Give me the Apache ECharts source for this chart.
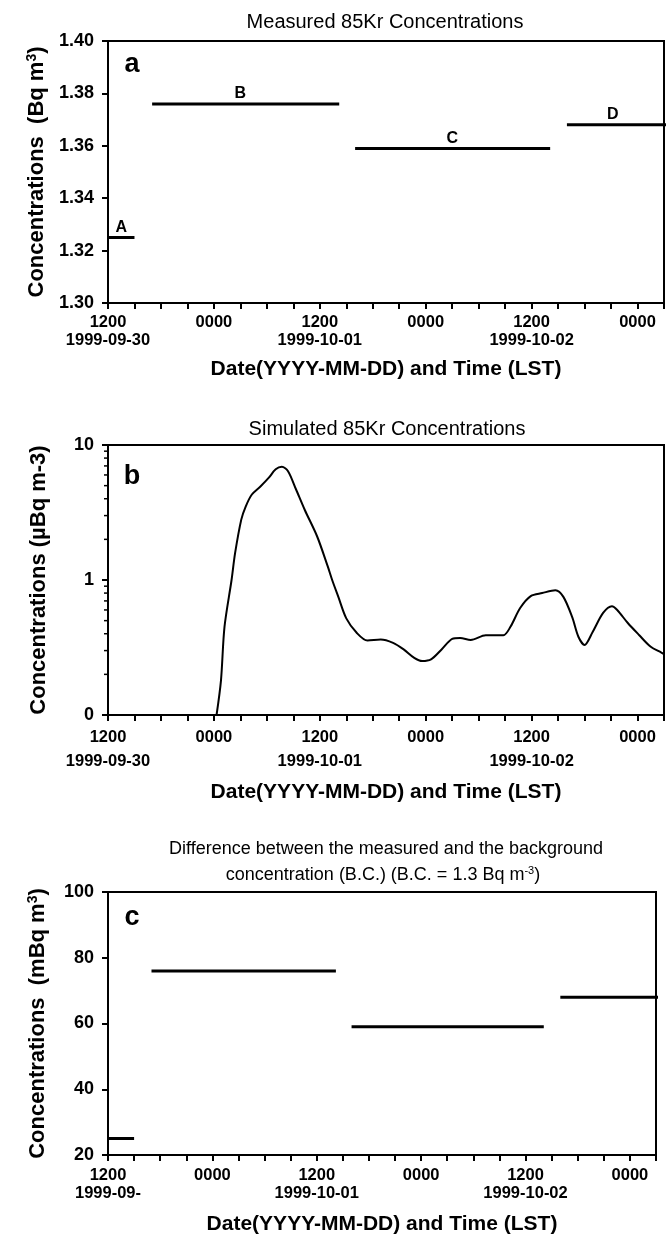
<!DOCTYPE html>
<html><head><meta charset="utf-8">
<script src="https://cdn.jsdelivr.net/npm/echarts@6/dist/echarts.min.js"></script>
<style>html,body{margin:0;padding:0;background:#fff}#c{width:667px;height:1236px}</style>
</head><body><div id="c"></div><script>
// ---- data ----
const hourTicks = [0, 12, 24, 36, 48, 60];
const timeLabels = ['1200', '0000', '1200', '0000', '1200', '0000'];
const dateLabelsAB = ['1999-09-30', '', '1999-10-01', '', '1999-10-02', ''];
const dateLabelsC = ['1999-09-', '', '1999-10-01', '', '1999-10-02', ''];
const segNames = ['A', 'B', 'C', 'D'];
const segStart = [0, 5, 28, 52];
const segEnd = [3, 26.2, 50.1, 64];
const segLabelAt = [1.5, 15, 39, 57.2];
const measuredBq = [1.325, 1.376, 1.359, 1.368];
const diffmBq = [25, 76, 59, 68];
const simHours = [12.3, 12.8, 13.2, 14.0, 14.4, 15.1, 15.6, 16.3, 17.3, 18.2, 19.0, 19.7, 20.4, 21.3, 22.3, 23.7, 24.9, 25.4, 26.1, 27.0, 28.2, 29.4, 30.9, 32.3, 33.5, 34.7, 35.6, 36.6, 37.8, 39.0, 39.9, 41.1, 42.8, 44.8, 45.6, 46.7, 47.9, 49.2, 50.7, 51.6, 52.6, 53.3, 54.0, 54.9, 56.1, 57.1, 57.7, 58.9, 60.2, 61.5, 62.7, 63.5];
const simValues = [0.1, 0.18, 0.45, 1.0, 1.58, 2.8, 3.5, 4.3, 4.95, 5.7, 6.6, 6.9, 6.4, 4.7, 3.3, 2.1, 1.26, 1.0, 0.75, 0.52, 0.405, 0.356, 0.362, 0.342, 0.306, 0.265, 0.251, 0.258, 0.306, 0.366, 0.372, 0.36, 0.39, 0.39, 0.45, 0.62, 0.76, 0.80, 0.84, 0.75, 0.53, 0.38, 0.33, 0.41, 0.57, 0.64, 0.60, 0.48, 0.39, 0.32, 0.29, 0.27];
const logMinorTicks = [0.2, 0.3, 0.4, 0.5, 0.6, 0.7, 0.8, 0.9, 2, 3, 4, 5, 6, 7, 8, 9];

// ---- chart ----
const FF = '"Liberation Sans", Arial, sans-serif';
const chart = echarts.init(document.getElementById('c'), null, {renderer: 'canvas'});

function xAxisFor(gi, dates, lineHeight, margin, nameGap) {
  return {
    type: 'value', gridIndex: gi, min: 0, max: 63, interval: 3,
    axisLine: {show: true, lineStyle: {color: '#000', width: 2}},
    axisTick: {show: true, inside: false, length: 6, lineStyle: {color: '#000', width: 2}},
    splitLine: {show: false},
    axisLabel: {
      margin: margin, color: '#000', fontSize: 16.5, fontWeight: 'bold', fontFamily: FF, lineHeight: lineHeight,
      formatter: function (v) { const i = hourTicks.indexOf(v); return i < 0 ? '' : timeLabels[i] + '\n' + dates[i]; }
    },
    name: 'Date(YYYY-MM-DD) and Time (LST)', nameLocation: 'middle', nameGap: nameGap,
    nameTextStyle: {color: '#000', fontSize: 21, fontWeight: 'bold', fontFamily: FF}
  };
}
function yAxisBase(gi, name, nameGap) {
  return {
    gridIndex: gi,
    axisLine: {show: true, lineStyle: {color: '#000', width: 2}},
    axisTick: {show: true, inside: false, length: 6, lineStyle: {color: '#000', width: 2}},
    splitLine: {show: false},
    axisLabel: {margin: 14, color: '#000', fontSize: 18, fontWeight: 'bold', fontFamily: FF},
    name: name, nameLocation: 'middle', nameGap: nameGap,
    nameTextStyle: {color: '#000', fontSize: 22, fontWeight: 'bold', fontFamily: FF,
      rich: {sup: {fontSize: 14, fontWeight: 'bold', fontFamily: FF, padding: [0, 0, 10, 0]}}}
  };
}

const yA = Object.assign(yAxisBase(0, 'Concentrations  (Bq m{sup|3})', 58), {type: 'value', min: 1.30, max: 1.40, interval: 0.02});
yA.axisLabel.formatter = v => v.toFixed(2);
const yB = Object.assign(yAxisBase(1, 'Concentrations (µBq m-3)', 58), {type: 'log', logBase: 10, min: 0.1, max: 10});
yB.axisLabel.formatter = v => (v < 1 ? '0' : String(Math.round(v)));
const yC = Object.assign(yAxisBase(2, 'Concentrations  (mBq m{sup|3})', 58), {type: 'value', min: 20, max: 100, interval: 20});

const grids = [
  {left: 108, top: 41, height: 262, right: 1},
  {left: 108, top: 445, height: 270, right: -3},
  {left: 108, top: 892, height: 266, right: 11}
].map(g => Object.assign(g, {show: true, borderColor: '#000', borderWidth: 2, backgroundColor: 'transparent', containLabel: false}));

const series = [];
function addSegments(xi, yi, vals, withLabels) {
  segNames.forEach((n, i) => {
    series.push({type: 'line', xAxisIndex: xi, yAxisIndex: yi, data: [[segStart[i], vals[i]], [segEnd[i], vals[i]]],
      showSymbol: false, symbol: 'none', lineStyle: {color: '#000', width: 3}, silent: true, animation: false});
  });
  if (withLabels) {
    series.push({type: 'scatter', xAxisIndex: xi, yAxisIndex: yi, symbol: 'circle', symbolSize: 0,
      itemStyle: {color: '#000', opacity: 1},
      data: segNames.map((n, i) => ({name: n, value: [segLabelAt[i], vals[i]]})),
      label: {show: true, position: 'top', distance: 2, formatter: p => p.name, color: '#000', opacity: 1,
        textBorderWidth: 0, fontSize: 16, fontWeight: 'bold', fontFamily: FF},
      animation: false, silent: true});
  }
}
addSegments(0, 0, measuredBq, true);
series.push({type: 'line', xAxisIndex: 1, yAxisIndex: 1, data: simHours.map((h, i) => [h, simValues[i]]),
  smooth: 0.3, showSymbol: false, symbol: 'none', lineStyle: {color: '#000', width: 2}, animation: false});
series.push({type: 'custom', xAxisIndex: 1, yAxisIndex: 1, clip: false, silent: true, animation: false,
  data: logMinorTicks.map(v => [0, v]),
  renderItem: function (params, api) {
    const p = api.coord([api.value(0), api.value(1)]);
    return {type: 'line', shape: {x1: p[0] - 4, y1: p[1], x2: p[0], y2: p[1]}, style: {stroke: '#000', lineWidth: 1.5}};
  }});
addSegments(2, 2, diffmBq, false);

const txt = (x, y, text, size, weight) => ({type: 'text', x: x, y: y, silent: true,
  style: {text: text, fill: '#000', font: (weight || 'normal') + ' ' + size + 'px ' + FF, textAlign: 'center', textVerticalAlign: 'middle'}});

const graphic = [
  txt(385, 22, 'Measured 85Kr Concentrations', 20, 'normal'),
  txt(387, 429, 'Simulated 85Kr Concentrations', 20, 'normal'),
  txt(386, 849, 'Difference between the measured and the background', 18, 'normal'),
  {type: 'text', x: 383, y: 875, silent: true, style: {text: 'concentration (B.C.) (B.C. = 1.3 Bq m{sup|-3})', fill: '#000',
    font: 'normal 18px ' + FF, textAlign: 'center', textVerticalAlign: 'middle',
    rich: {sup: {fontSize: 11, fontFamily: FF, padding: [0, 0, 9, 0]}}}},
  txt(132, 65, 'a', 27, 'bold'),
  txt(132, 477, 'b', 27, 'bold'),
  txt(132, 918, 'c', 27, 'bold')
];

chart.setOption({
  backgroundColor: '#fff',
  animation: false,
  grid: grids,
  xAxis: [xAxisFor(0, dateLabelsAB, 18.5, 10, 56), xAxisFor(1, dateLabelsAB, 24.5, 10, 67), xAxisFor(2, dateLabelsC, 18.5, 11, 59)],
  yAxis: [yA, yB, yC],
  series: series,
  graphic: graphic
});
</script></body></html>
